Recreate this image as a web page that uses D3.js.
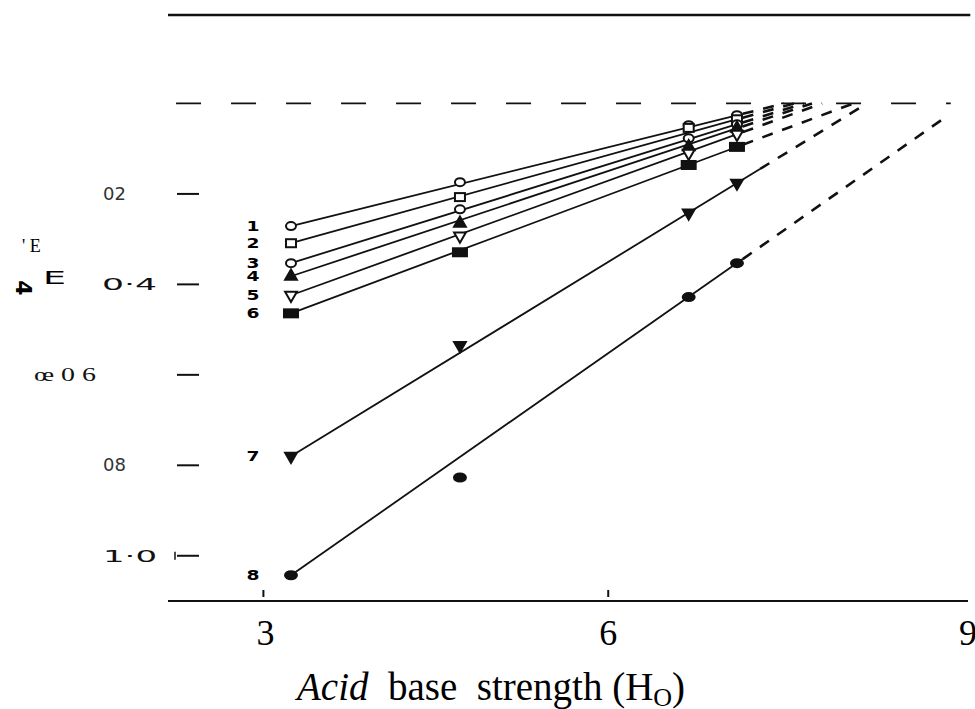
<!DOCTYPE html>
<html lang="en">
  <head>
    <meta charset="utf-8">
    <title>Acid base strength</title>
    <style>
      body { margin: 0; background: #fff; }
      svg { display: block; }
    </style>
  </head>
  <body>
    <svg id="chart"></svg>

    <script src="https://d3js.org/d3.v7.min.js"></script>

    <script type="text/javascript">
      // acid strength (H0) of the four catalysts, same for all curves
      const hVals = [3.24, 4.71, 6.70, 7.12];

      const seriesNames = ['1', '2', '3', '4', '5', '6', '7', '8'];
      const s1 = [0.271, 0.174, 0.048, 0.026];
      const s2 = [0.309, 0.207, 0.054, 0.035];
      const s3 = [0.353, 0.234, 0.077, 0.046];
      const s4 = [0.382, 0.265, 0.096, 0.055];
      const s5 = [0.424, 0.293, 0.110, 0.068];
      const s6 = [0.464, 0.329, 0.136, 0.096];
      const s7 = [0.780, 0.535, 0.242, 0.176];
      const s8 = [1.043, 0.827, 0.428, 0.353];
      const seriesValues = [s1, s2, s3, s4, s5, s6, s7, s8];
      const markerShapes = ['circle', 'square', 'circle', 'triangle',
                            'triangleDown', 'bar', 'triangleDown', 'dot'];
      const markerFilled = [false, false, false, true, false, true, true, true];
      // where the dashed extrapolation stops (last one runs off the frame)
      const dashLimit = 8.92;

      const yTicks = [0.2, 0.4, 0.6, 0.8, 1.0];
      const yTickLabels = ['02', '0·4', 'œ 0 6', '08', '1·0'];
      const xTicks = [3, 6, 9];
      const xTickLabels = ['3', '6', '9'];

      const W = 975, H = 709;
      const svg = d3.select('#chart').attr('width', W).attr('height', H);

      const x = d3.scaleLinear().domain([2.17, 9.13]).range([168, 968]);
      const y = d3.scaleLinear().domain([-0.2, 1.1]).range([13, 601]);

      // frame top rule and bottom axis
      svg.append('line')
         .attr('x1', x(2.17)).attr('x2', x(9.15))
         .attr('y1', y(-0.2) + 2).attr('y2', y(-0.2) + 2)
         .attr('stroke', '#111').attr('stroke-width', 2.5);

      svg.append('line')
         .attr('x1', x(2.17)).attr('x2', x(9.13))
         .attr('y1', y(1.1)).attr('y2', y(1.1))
         .attr('stroke', '#111').attr('stroke-width', 2);

      // dashed reference at zero
      svg.append('line')
         .attr('x1', x(2.24)).attr('x2', x(8.98))
         .attr('y1', y(0)).attr('y2', y(0))
         .attr('stroke', '#111').attr('stroke-width', 1.8)
         .attr('stroke-dasharray', '25,30');

      // x ticks: small marks above the axis
      svg.selectAll('.xtick').data(xTicks.slice(0, 2)).enter()
         .append('line')
         .attr('x1', d => x(d)).attr('x2', d => x(d))
         .attr('y1', y(1.1) - 11).attr('y2', y(1.1) - 4)
         .attr('stroke', '#111').attr('stroke-width', 2);

      // the scanned labels are not quite where the ticks are
      const xLabelShift = [2, 0, 15];
      svg.selectAll('.xlab').data(xTicks).enter()
         .append('text')
         .attr('x', (d, i) => x(d) + xLabelShift[i]).attr('y', 645)
         .attr('text-anchor', 'middle')
         .style('font-family', '"Liberation Serif", serif')
         .style('font-size', '36px')
         .text((d, i) => xTickLabels[i]);

      const title = svg.append('text')
         .attr('x', 297).attr('y', 700)
         .attr('xml:space', 'preserve')
         .style('font-family', '"Liberation Serif", serif')
         .style('font-size', '39px');
      title.append('tspan').style('font-style', 'italic').text('Acid');
      title.append('tspan').text('  base  strength (H');
      title.append('tspan').attr('dy', 6).style('font-size', '26px').text('O');
      title.append('tspan').attr('dy', -6).text(')');

      // y ticks: short dashes, no axis line
      svg.selectAll('.ytick').data(yTicks).enter()
         .append('line')
         .attr('x1', 177).attr('x2', 199)
         .attr('y1', d => y(d)).attr('y2', d => y(d))
         .attr('stroke', '#111').attr('stroke-width', 2);
      svg.append('line')
         .attr('x1', 175).attr('x2', 175)
         .attr('y1', y(1.0) - 4).attr('y2', y(1.0) + 4)
         .attr('stroke', '#111').attr('stroke-width', 1.5);

      // the scanned tick labels come in three different faces
      const labStyle = [
        { x: 126, font: '"DejaVu Sans", sans-serif', size: 18, fill: '#333', len: null },
        { x: 157, font: '"DejaVu Sans", sans-serif', size: 15, fill: '#111', len: 55 },
        { x: 96,  font: '"Liberation Serif", serif', size: 19, fill: '#111', len: 62 },
        { x: 126, font: '"DejaVu Sans", sans-serif', size: 18, fill: '#333', len: null },
        { x: 157, font: '"DejaVu Sans", sans-serif', size: 15, fill: '#111', len: 54 }
      ];
      yTicks.forEach((d, i) => {
        const st = labStyle[i];
        const t = svg.append('text')
           .attr('x', st.x).attr('y', y(d) + 6)
           .attr('text-anchor', 'end')
           .style('font-family', st.font)
           .style('font-size', st.size + 'px')
           .style('fill', st.fill)
           .text(yTickLabels[i]);
        if (st.len) t.attr('textLength', st.len).attr('lengthAdjust', 'spacingAndGlyphs');
      });

      // y axis label (garbled in the scan)
      svg.append('text')
         .attr('x', 22).attr('y', 252)
         .style('font-family', '"Liberation Serif", serif')
         .style('font-size', '18px')
         .text("' E");
      svg.append('text')
         .attr('transform', 'translate(16,288) rotate(90)')
         .attr('text-anchor', 'middle')
         .style('font-family', '"DejaVu Sans", sans-serif')
         .style('font-weight', 'bold')
         .style('font-size', '22px')
         .text('4');
      svg.append('text')
         .attr('x', 43).attr('y', 284)
         .attr('textLength', 23).attr('lengthAdjust', 'spacingAndGlyphs')
         .style('font-family', '"DejaVu Sans", sans-serif')
         .style('font-size', '17px')
         .text('E');

      // lines: solid through the measured range, dashed out to zero
      seriesValues.forEach((vals, i) => {
        const h0 = hVals[0], h3 = hVals[hVals.length - 1];
        const v0 = vals[0], v3 = vals[vals.length - 1];
        const m = (v3 - v0) / (h3 - h0);
        let hEnd = h3 - v3 / m;
        if (hEnd > dashLimit) hEnd = dashLimit;
        const vEnd = v3 + m * (hEnd - h3);
        const hSolid = h3 + (i === 6 ? 0.2 : 0.05);
        const vSolid = v3 + m * (hSolid - h3);

        svg.append('line')
           .attr('x1', x(h0)).attr('y1', y(v0))
           .attr('x2', x(hSolid)).attr('y2', y(vSolid))
           .attr('stroke', '#111').attr('stroke-width', 1.8);
        svg.append('line')
           .attr('x1', x(hSolid)).attr('y1', y(vSolid))
           .attr('x2', x(hEnd)).attr('y2', y(vEnd))
           .attr('stroke', '#111').attr('stroke-width', 2.6)
           .attr('stroke-dasharray', '11,10');
      });

      // markers
      const tri = d3.symbol().type(d3.symbolTriangle).size(60);
      seriesValues.forEach((vals, i) => {
        const shape = markerShapes[i];
        const fill = markerFilled[i] ? '#111' : '#fff';
        const g = svg.append('g');
        vals.forEach((v, j) => {
          const cx = x(hVals[j]), cy = y(v);
          let mk;
          if (shape === 'circle') {
            mk = g.append('ellipse').attr('rx', 5).attr('ry', 4);
          } else if (shape === 'dot') {
            mk = g.append('ellipse').attr('rx', 6).attr('ry', 4);
          } else if (shape === 'square') {
            mk = g.append('rect').attr('x', -5).attr('y', -4).attr('width', 10).attr('height', 8);
          } else if (shape === 'bar') {
            mk = g.append('rect').attr('x', -7).attr('y', -4).attr('width', 14).attr('height', 8);
          } else {
            mk = g.append('path').attr('d', tri);
          }
          let tr = `translate(${cx},${cy})`;
          if (shape === 'triangleDown') tr += ' rotate(180)';
          mk.attr('transform', tr)
            .attr('fill', fill)
            .attr('stroke', '#111')
            .attr('stroke-width', 2);
        });
      });

      // curve numbers to the left of the first point
      seriesValues.forEach((vals, i) => {
        svg.append('text')
           .attr('x', x(hVals[0]) - 38).attr('y', y(vals[0]) + 5)
           .attr('text-anchor', 'middle')
           .attr('textLength', 13).attr('lengthAdjust', 'spacingAndGlyphs')
           .style('font-family', '"DejaVu Sans", sans-serif')
           .style('font-weight', 'bold')
           .style('font-size', '14px')
           .text(seriesNames[i]);
      });
    </script>
  </body>
</html>
